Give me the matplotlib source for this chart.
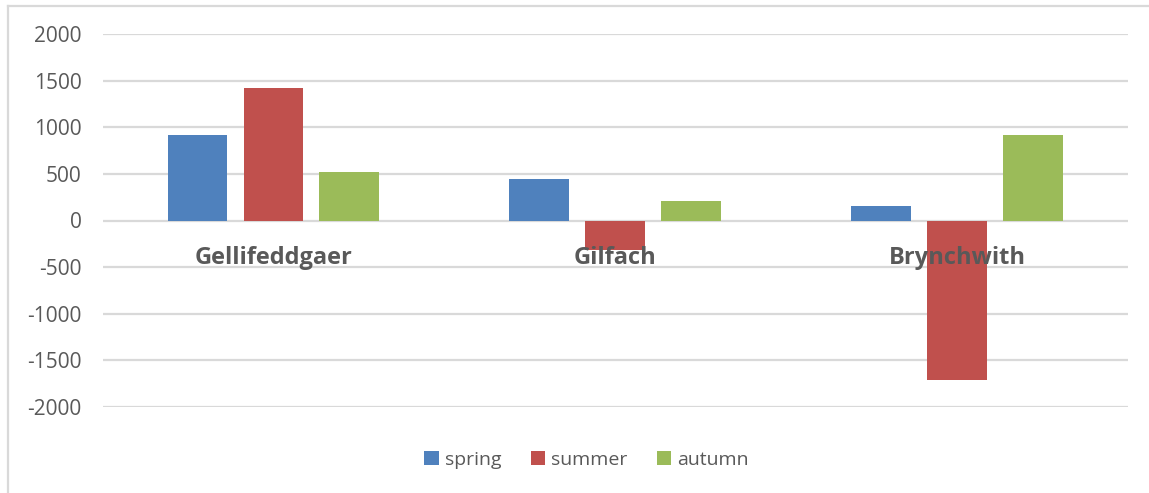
import matplotlib
matplotlib.use("Agg")
import matplotlib.pyplot as plt
from matplotlib.lines import Line2D
from matplotlib.patches import Patch
import numpy as np

categories = ["Gellifeddgaer", "Gilfach", "Brynchwith"]
series_names = ["spring", "summer", "autumn"]
spring = [920, 450, 160]
summer = [1420, -320, -1710]
autumn = [520, 210, 915]
y_ticks = [-2000, -1500, -1000, -500, 0, 500, 1000, 1500, 2000]

colors = ["#4F81BD", "#C0504D", "#9BBB59"]
text_color = "#595959"
grid_color = "#D9D9D9"

plt.rcParams['font.family'] = ['Open Sans', 'DejaVu Sans']

W, H = 1149, 493
fig = plt.figure(figsize=(W / 100, H / 100), dpi=100)
ax = fig.add_axes([102.5 / W, 1 - 407 / H, (1128 - 102.5) / W, (407 - 34) / H])

x = np.arange(len(categories))
bw = 0.175
off = 0.222
for i, (vals, c) in enumerate(zip([spring, summer, autumn], colors)):
    ax.bar(x + (i - 1) * off, vals, width=bw, color=c, zorder=1)

ax.set_xlim(-0.5, len(categories) - 0.5)
ax.set_ylim(-2000, 2000)
ax.set_yticks(y_ticks)
ax.set_yticklabels([str(v) for v in y_ticks], fontsize=15, color=text_color)
ax.yaxis.grid(True, color=grid_color, linewidth=1.6)
ax.yaxis.set_zorder(0.5)
ax.xaxis.set_zorder(5)
ax.tick_params(axis='y', length=0, pad=15)

for s in ['top', 'right', 'left']:
    ax.spines[s].set_visible(False)
ax.spines['bottom'].set_position(('data', 0))
ax.spines['bottom'].set_visible(False)
ax.set_xticks(x)
ax.set_xticklabels(categories, fontsize=17, fontweight='bold', color=text_color)
ax.tick_params(axis='x', length=0, pad=18)

handles = [Patch(facecolor=c, edgecolor='none') for c in colors]
fig.legend(handles, series_names, loc='center', bbox_to_anchor=(586.5 / W, 1 - 460 / H),
           ncol=3, frameon=False, fontsize=14, labelcolor=text_color,
           handlelength=0.75, handleheight=0.75, handletextpad=0.3, columnspacing=1.5)

fig.add_artist(Line2D([7.5 / W, 7.5 / W], [0, 1 - 5.5 / H], color=grid_color, linewidth=1.6))
fig.add_artist(Line2D([7.5 / W, 1], [1 - 5.5 / H, 1 - 5.5 / H], color=grid_color, linewidth=1.6))

fig.savefig("out.png", dpi=100, facecolor="white")
